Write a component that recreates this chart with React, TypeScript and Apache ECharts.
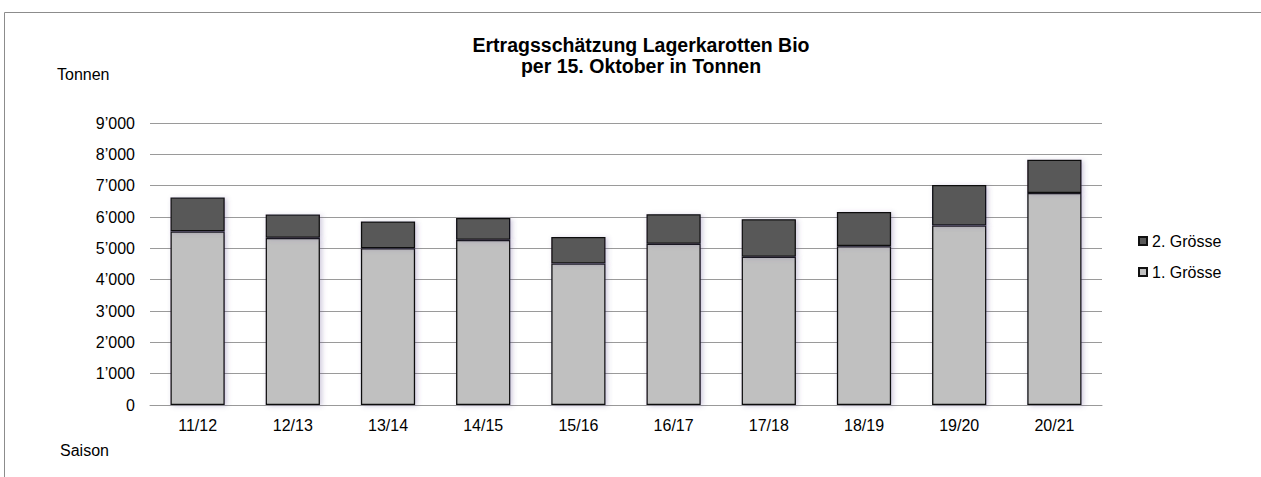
import React, { useEffect, useRef } from "react";
import * as echarts from "echarts";

const categories = ["11/12", "12/13", "13/14", "14/15", "15/16", "16/17", "17/18", "18/19", "19/20", "20/21"];
const groesse1 = [5540, 5335, 5005, 5270, 4515, 5145, 4730, 5070, 5730, 6765];
const groesse2 = [1080, 745, 855, 700, 845, 945, 1200, 1090, 1290, 1065];
const yTicks = [0, 1000, 2000, 3000, 4000, 5000, 6000, 7000, 8000, 9000];

const FONT = "Liberation Sans, Arial, sans-serif";
const FS = 16;

function fmt(v: number): string {
  const s = String(Math.round(v));
  return s.replace(/\B(?=(\d{3})+(?!\d))/g, "\u2019");
}

export default function App() {
  const ref = useRef<HTMLDivElement>(null);
  useEffect(() => {
    if (!ref.current) return;
    const chart = echarts.init(ref.current, undefined, { renderer: "svg" });
    const barShadow = {
      shadowBlur: 5,
      shadowColor: "rgba(90,70,140,0.3)",
      shadowOffsetX: 2,
      shadowOffsetY: 1,
    };
    chart.setOption({
      animation: false,
      backgroundColor: "#ffffff",
      textStyle: { fontFamily: FONT },
      title: {
        text: "Ertragsschätzung Lagerkarotten Bio\nper 15. Oktober in Tonnen",
        left: 636,
        textAlign: "center",
        top: 29,
        textStyle: { fontSize: 19.5, fontWeight: "bold", color: "#000", lineHeight: 21, fontFamily: FONT },
      },
      graphic: [
        {
          type: "rect",
          shape: { x: 4.5, y: 12.5, width: 1300, height: 500 },
          style: { fill: "none", stroke: "#8c8c8c", lineWidth: 1 },
          silent: true,
        },
        {
          type: "text",
          left: 57,
          top: 66,
          style: { text: "Tonnen", fontSize: FS, fill: "#000", fontFamily: FONT },
        },
        {
          type: "text",
          left: 60,
          top: 442,
          style: { text: "Saison", fontSize: FS, fill: "#000", fontFamily: FONT },
        },
      ],
      legend: {
        data: ["2. Grösse", "1. Grösse"],
        orient: "vertical",
        left: 1133,
        top: 227,
        itemWidth: 8,
        itemHeight: 8,
        itemGap: 13,
        icon: "rect",
        textStyle: { fontSize: FS, color: "#000", fontFamily: FONT, lineHeight: 18 },
      },
      grid: { left: 150, right: 159, top: 123, bottom: 72, containLabel: false },
      xAxis: {
        type: "category",
        data: categories,
        axisLine: { show: true, lineStyle: { color: "#999999", width: 1 } },
        axisTick: { show: false },
        axisLabel: { fontSize: FS, color: "#000", margin: 12, fontFamily: FONT },
      },
      yAxis: {
        type: "value",
        min: yTicks[0],
        max: yTicks[yTicks.length - 1],
        interval: 1000,
        axisLine: { show: false },
        axisTick: { show: false },
        splitLine: { lineStyle: { color: "#9a9a9a", width: 1 } },
        axisLabel: { fontSize: FS, color: "#000", margin: 15, fontFamily: FONT, formatter: (v: number) => fmt(v) },
      },
      series: [
        {
          name: "1. Grösse",
          type: "bar",
          stack: "total",
          data: groesse1,
          barCategoryGap: "43%",
          itemStyle: { color: "#c0c0c0", borderColor: "#111", borderWidth: 1.3, ...barShadow },
        },
        {
          name: "2. Grösse",
          type: "bar",
          stack: "total",
          data: groesse2,
          barCategoryGap: "43%",
          itemStyle: { color: "#595959", borderColor: "#111", borderWidth: 1.3, ...barShadow },
        },
      ],
    });
    return () => chart.dispose();
  }, []);
  return (
    <div
      ref={ref}
      style={{ position: "absolute", left: 0, top: 0, width: 1261, height: 477 }}
    />
  );
}
